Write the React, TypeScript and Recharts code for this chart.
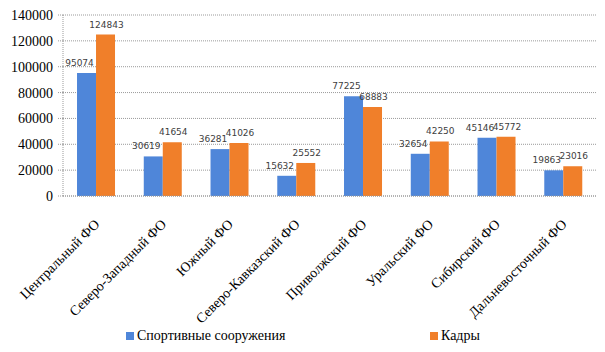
import { BarChart, Bar, XAxis, YAxis, CartesianGrid, Legend, LabelList } from 'recharts';

const districts = [
  'Центральный ФО',
  'Северо-Западный ФО',
  'Южный ФО',
  'Северо-Кавказский ФО',
  'Приволжский ФО',
  'Уральский ФО',
  'Сибирский ФО',
  'Дальневосточный ФО',
];
const sportFacilities = [95074, 30619, 36281, 15632, 77225, 32654, 45146, 19863];
const staff = [124843, 41654, 41026, 25552, 68883, 42250, 45772, 23016];
const yTicks = [0, 20000, 40000, 60000, 80000, 100000, 120000, 140000];

const data = districts.map((name, i) => ({
  name,
  sport: sportFacilities[i],
  staff: staff[i],
}));

const BLUE = '#4f86d9';
const ORANGE = '#f07f2a';
const serif = '"Times New Roman", Tinos, "Liberation Serif", "Noto Serif", "DejaVu Serif", FreeSerif, serif';

const XTick = ({ x, y, payload }: any) => (
  <text
    x={x + 4}
    y={y + 21}
    transform={`rotate(-45, ${x + 4}, ${y + 21})`}
    textAnchor="end"
    fontFamily={serif}
    fontSize={14}
    fill="#000"
  >
    {payload.value}
  </text>
);

const makeLabel = (dx: number) => (props: any) => {
  const { x, y, width, value } = props;
  return (
    <text
      x={x + width / 2 + dx}
      y={y - 7}
      textAnchor="middle"
      fontFamily="DejaVu Sans, Verdana, sans-serif"
      fontSize={9}
      fill="#404040"
    >
      {value}
    </text>
  );
};

const LegendBox = () => (
  <div style={{ position: 'relative', width: 605, height: 26, fontFamily: serif, fontSize: 14, color: '#000' }}>
    <div style={{ position: 'absolute', left: 126, top: 2, display: 'flex', alignItems: 'center' }}>
      <span style={{ width: 8, height: 8, background: BLUE, marginRight: 3, display: 'inline-block' }} />
      <span>Спортивные сооружения</span>
    </div>
    <div style={{ position: 'absolute', left: 430, top: 2, display: 'flex', alignItems: 'center' }}>
      <span style={{ width: 8, height: 8, background: ORANGE, marginRight: 3, display: 'inline-block' }} />
      <span>Кадры</span>
    </div>
  </div>
);

export default function App() {
  return (
    <div style={{ position: 'absolute', left: 0, top: 0, background: '#fff' }}>
      <BarChart
        width={605}
        height={352}
        data={data}
        margin={{ top: 15, right: 8, left: 0, bottom: 0 }}
        barCategoryGap="21%"
        barGap={0}
      >
        <CartesianGrid vertical={false} stroke="#9a9a9a" strokeDasharray="1 1" />
        <YAxis
          width={63}
          domain={[0, 140000]}
          ticks={yTicks}
          interval={0}
          tickSize={5}
          tickMargin={5}
          stroke="#9a9a9a"
          strokeDasharray="1 1"
          tick={{ fontFamily: serif, fontSize: 14, fill: '#000' }}
        />
        <XAxis
          dataKey="name"
          height={130}
          interval={0}
          tickLine={false}
          stroke="#9a9a9a"
          strokeDasharray="1 1"
          tick={<XTick />}
        />
        <Legend verticalAlign="bottom" height={26} content={<LegendBox />} />
        <Bar dataKey="sport" fill={BLUE} isAnimationActive={false}>
          <LabelList dataKey="sport" content={makeLabel(-7)} />
        </Bar>
        <Bar dataKey="staff" fill={ORANGE} isAnimationActive={false}>
          <LabelList dataKey="staff" content={makeLabel(1)} />
        </Bar>
      </BarChart>
    </div>
  );
}
